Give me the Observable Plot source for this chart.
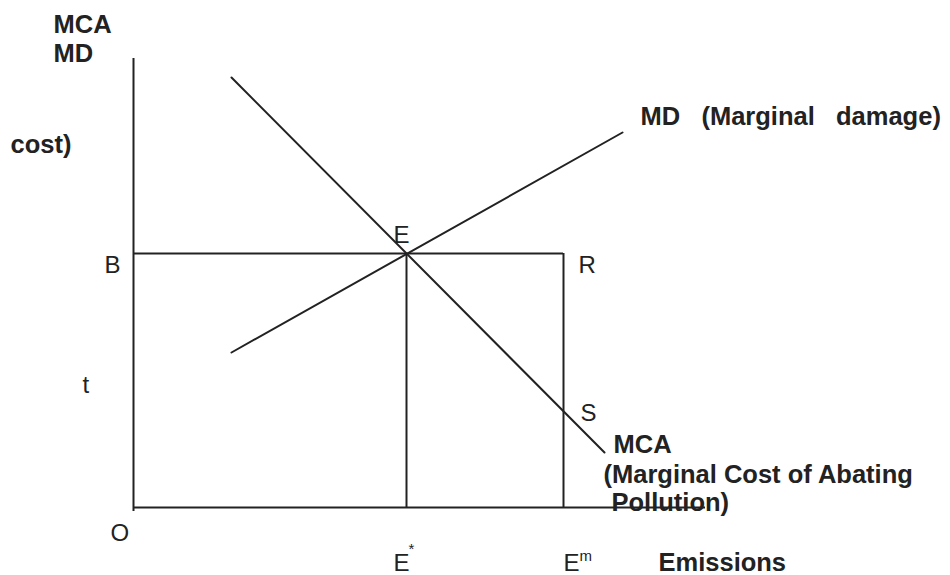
<!DOCTYPE html>
<html>
<head>
<meta charset="utf-8">
<script src="https://cdn.jsdelivr.net/npm/d3@7"></script>
<script src="https://cdn.jsdelivr.net/npm/@observablehq/plot@0.6"></script>
<style>
  html, body { margin: 0; padding: 0; background: #fff; }
  #chart svg { display: block; }
</style>
</head>
<body>
<div id="chart"></div>
<script>
// Diagram coordinates (emissions on x, cost on y)
const eStar = 273;          // optimal emissions E*
const eMax = 430;           // unregulated emissions E^m
const tax = 254;            // cost level B / t at equilibrium E
const mcaCurve = [{x: 98, y: 430}, {x: 471, y: 55}];   // Marginal Cost of Abating
const mdCurve = [{x: 98, y: 155}, {x: 489, y: 375}];   // Marginal Damage
const yAxisSeg = [{x: 0, y1: -4, y2: 449}];
const xAxisSeg = [{y: 0, x1: 0, x2: 572}];

// Labels
const boldLabels = [
  {x: -80, y: 475, text: "MCA"},
  {x: -80, y: 446, text: "MD"},
  {x: -123, y: 355, text: "cost)"},
  {x: 507, y: 383, text: "MD   (Marginal   damage)"},
  {x: 480, y: 55, text: "MCA"},
  {x: 470, y: 25, text: "(Marginal Cost of Abating"},
  {x: 478, y: -3, text: "Pollution)"},
  {x: 525, y: -63, text: "Emissions"}
];
const plainLabels = [
  {x: 260, y: 265, text: "E"},
  {x: -29, y: 235, text: "B"},
  {x: 445, y: 235, text: "R"},
  {x: -51, y: 115, text: "t"},
  {x: 447, y: 87, text: "S"},
  {x: -23, y: -33, text: "O"},
  {x: 260, y: -63, text: "E"},
  {x: 430, y: -63, text: "E"}
];
const supLabels = [
  {x: 275, y: -46, text: "*"},
  {x: 446, y: -53, text: "m"}
];

const ink = "#222";
const font = "'Liberation Sans', Arial, Helvetica, sans-serif";

const chart = Plot.plot({
  width: 950,
  height: 575,
  margin: 0,
  x: {domain: [-133, 817], axis: null},
  y: {domain: [-68, 507], axis: null},
  style: {fontFamily: font, background: "#fff"},
  marks: [
    Plot.ruleX(yAxisSeg, {x: "x", y1: "y1", y2: "y2", stroke: ink, strokeWidth: 2}),
    Plot.ruleY(xAxisSeg, {y: "y", x1: "x1", x2: "x2", stroke: ink, strokeWidth: 2}),
    Plot.ruleY([tax], {x1: 0, x2: eMax, stroke: ink, strokeWidth: 2}),
    Plot.ruleX([eStar, eMax], {y1: 0, y2: tax, stroke: ink, strokeWidth: 2}),
    Plot.line(mcaCurve, {x: "x", y: "y", stroke: ink, strokeWidth: 2}),
    Plot.line(mdCurve, {x: "x", y: "y", stroke: ink, strokeWidth: 2}),
    Plot.text(boldLabels, {x: "x", y: "y", text: "text", textAnchor: "start", lineAnchor: "bottom",
      fontSize: 25.5, fontWeight: "bold", fill: ink}),
    Plot.text(plainLabels, {x: "x", y: "y", text: "text", textAnchor: "start", lineAnchor: "bottom",
      fontSize: 24, fill: ink}),
    Plot.text(supLabels, {x: "x", y: "y", text: "text", textAnchor: "start", lineAnchor: "bottom",
      fontSize: 15, fill: ink})
  ]
});
document.getElementById("chart").appendChild(chart);
</script>
</body>
</html>
